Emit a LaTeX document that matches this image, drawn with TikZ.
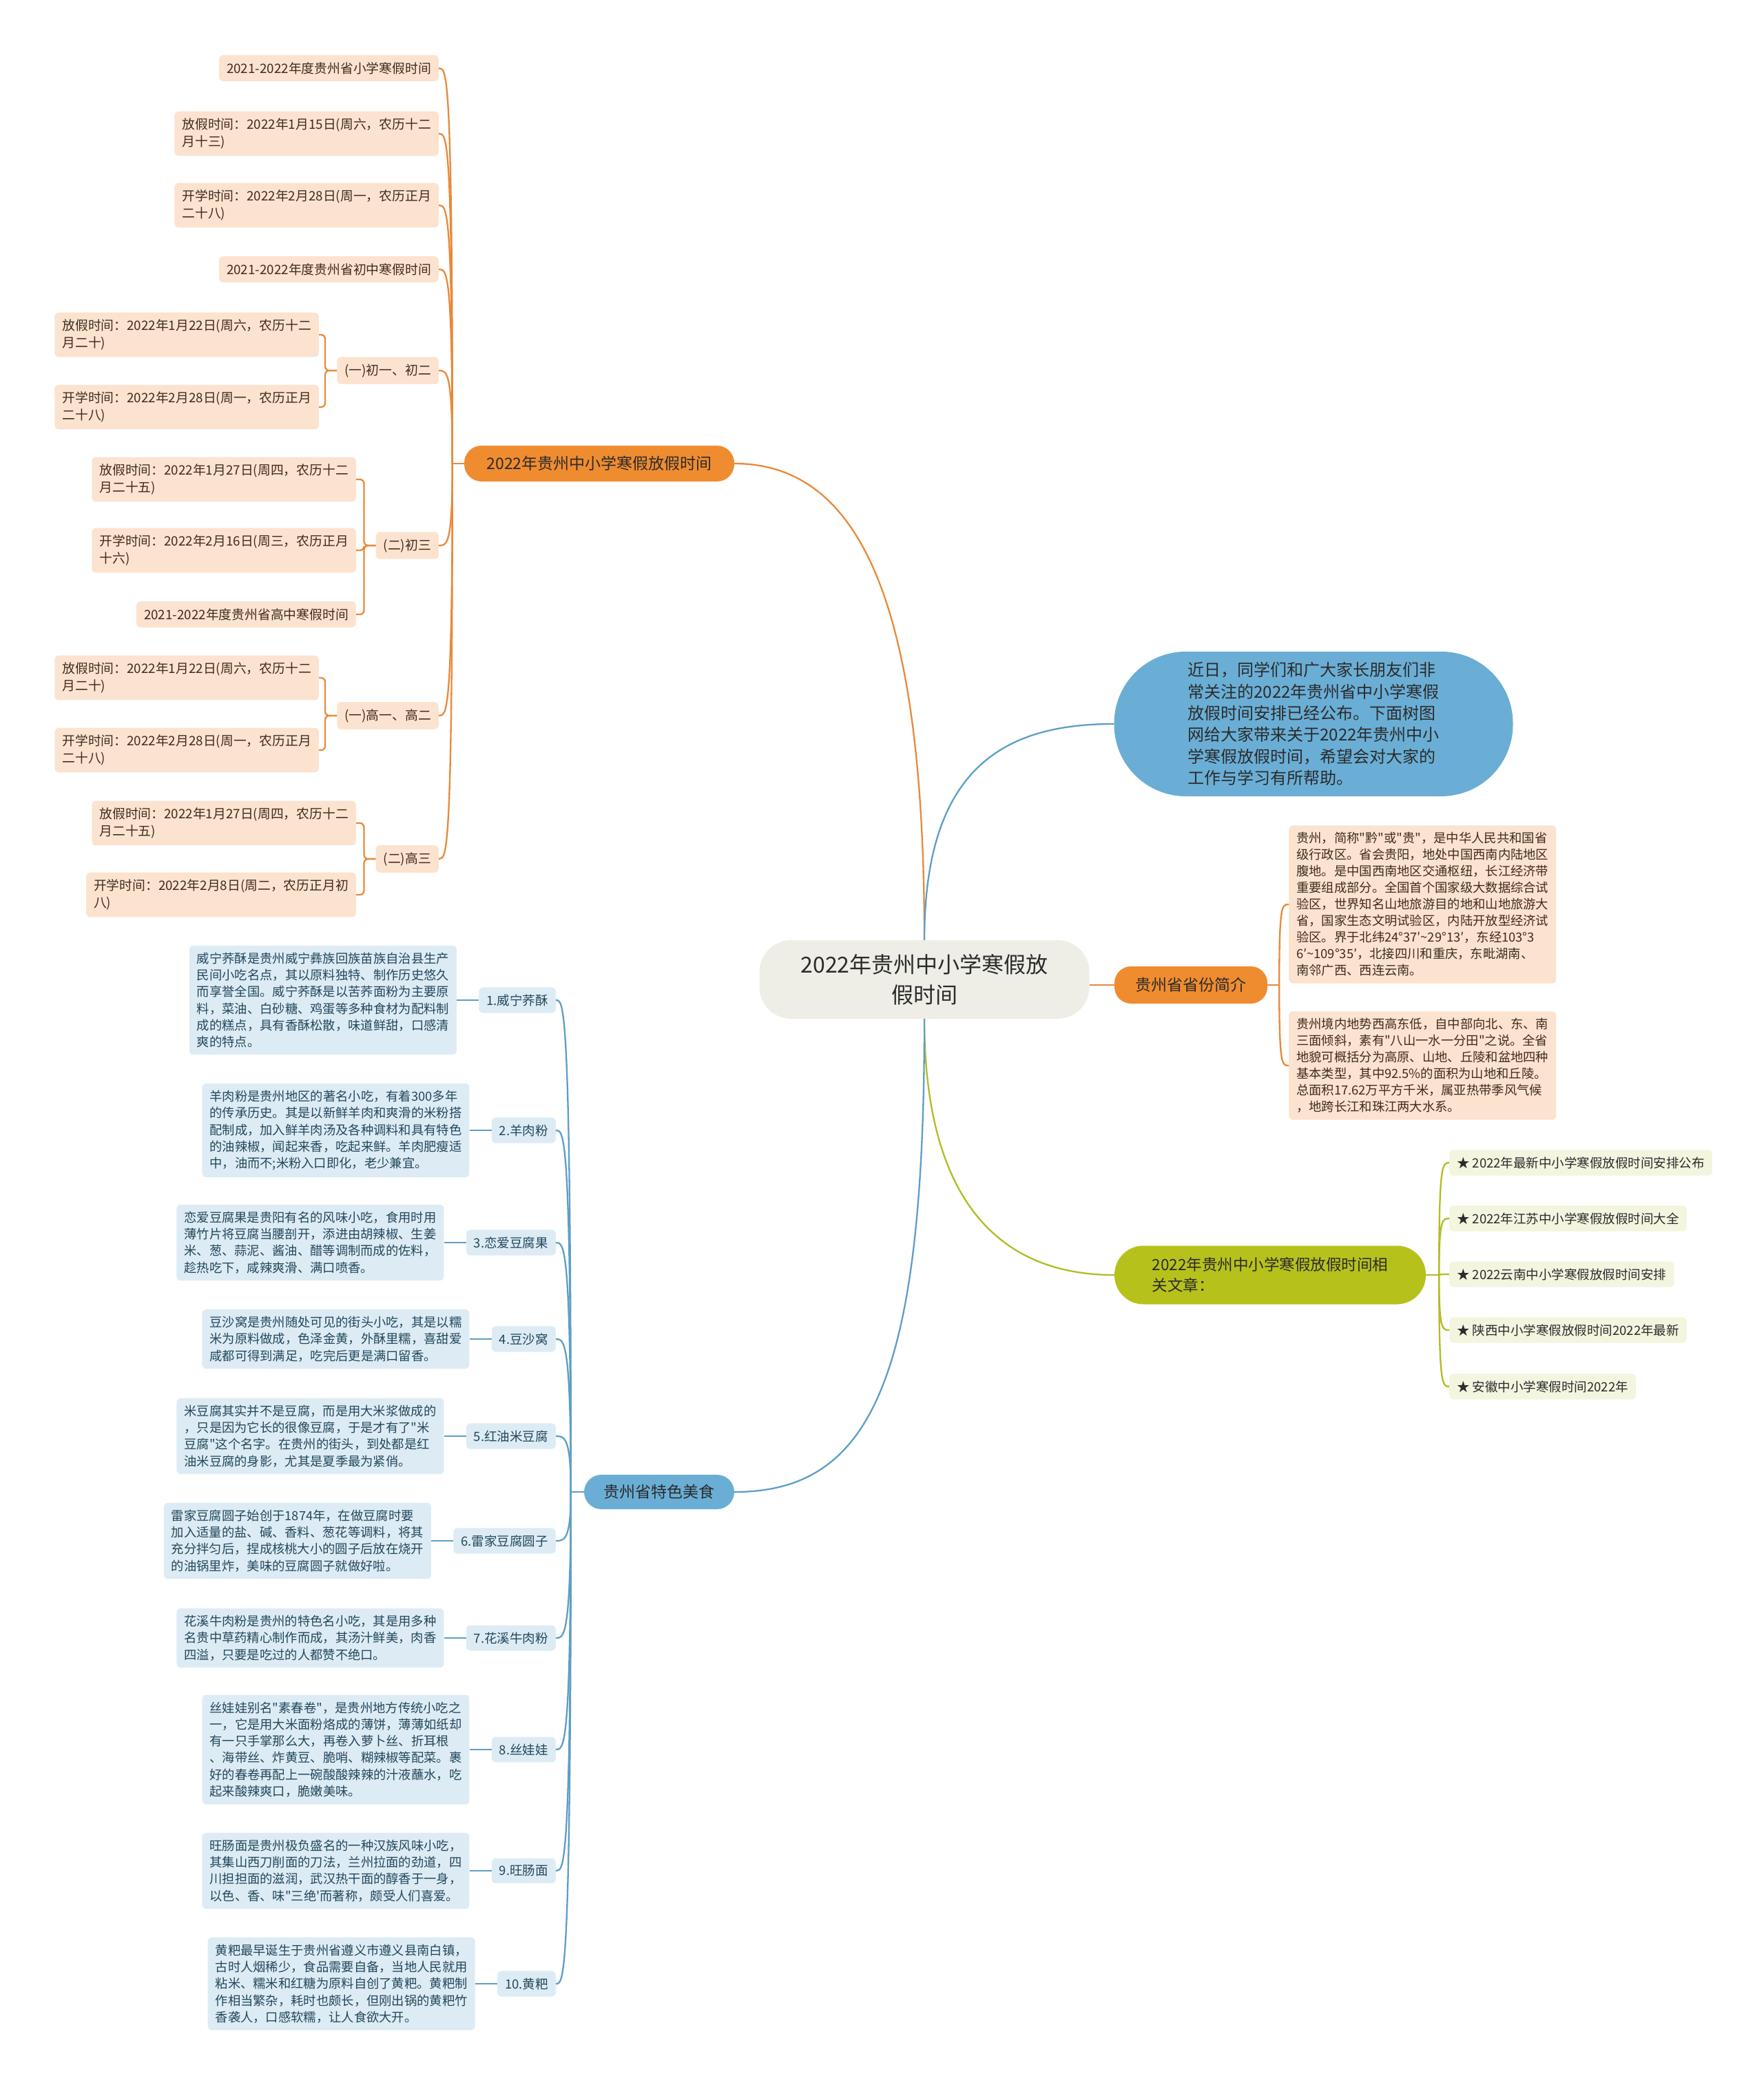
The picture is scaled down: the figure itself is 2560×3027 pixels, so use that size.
\documentclass[tikz,border=0pt]{standalone}
\usepackage{fontspec}
\setmainfont{Noto Sans CJK SC}[Ligatures=TeXOff]
\usetikzlibrary{positioning, calc}
\definecolor{OrgF} {HTML}{F08C30}
\definecolor{OrgL} {HTML}{E8893A}
\definecolor{OrgP} {HTML}{FCE3CF}
\definecolor{BluF} {HTML}{6AAED5}
\definecolor{BluL} {HTML}{5E9EC5}
\definecolor{BluP} {HTML}{DDECF4}
\definecolor{OlvF} {HTML}{B7C11C}
\definecolor{OlvL} {HTML}{B1BD22}
\definecolor{OlvP} {HTML}{F3F5DF}
\definecolor{RootF}{HTML}{EEEEE7}
\definecolor{Ink}  {HTML}{2B2B2B}
\definecolor{BrnT} {HTML}{3E2C1E}
\definecolor{SlaT} {HTML}{23475C}
\tikzset{
  root/.style={
    rectangle, rounded corners=46pt,
    fill=RootF, text=Ink,
    font=\fontsize{32}{44}\selectfont, align=center,
    minimum width=479pt, minimum height=114pt, inner sep=0pt,
  },
  tpc/.style args={#1}{
    rectangle, rounded corners=25pt,
    fill=#1, text=Ink,
    font=\fontsize{23}{31}\selectfont, align=left,
    inner sep=0pt, minimum height=52pt,
  },
  lf/.style args={#1/#2}{
    rectangle, rounded corners=6pt,
    fill=#1, text=#2,
    font=\fontsize{18.8}{25}\selectfont, align=left,
    inner xsep=11pt, inner ysep=10pt,
  },
  dsc/.style={
    lf=BluP/SlaT, font=\fontsize{18.3}{24.3}\selectfont,
  },
  con/.style args={#1}{
    draw=#1, line width=2.3pt,
  },
}
\begin{document}
\begin{tikzpicture}[x=1pt,y=-1pt]
  \fill[white] (0,0) rectangle (2560,3027);
  \useasboundingbox (0,0) rectangle (2560,3027);

  \node[root] (ctr) at (1342,1422) {2022年贵州中小学寒假放\\假时间};

  % main topics
  \node[tpc=OrgF, minimum width=392pt] (hol) at (870,673) {2022年贵州中小学寒假放假时间};
  \node[tpc=BluF, minimum width=579pt, minimum height=210pt, rounded corners=104pt,
        font=\fontsize{24}{31.3}\selectfont] (intro) at (1907,1051)
       {近日，同学们和广大家长朋友们非\\常关注的2022年贵州省中小学寒假\\放假时间安排已经公布。下面树图\\网给大家带来关于2022年贵州中小\\学寒假放假时间，希望会对大家的\\工作与学习有所帮助。};
  \node[tpc=OrgF, minimum width=222pt, minimum height=54pt, rounded corners=24pt] (prov) at (1729,1430) {贵州省省份简介};
  \node[tpc=OlvF, minimum width=452pt, minimum height=85pt, rounded corners=42pt,
        font=\fontsize{22.5}{30}\selectfont] (rel) at (1844,1851) {2022年贵州中小学寒假放假时间相\\关文章：};
  \node[tpc=BluF, minimum width=218pt, minimum height=50pt] (food) at (957,2166) {贵州省特色美食};

  \draw[con=OrgL] (ctr.north) .. controls +(0,-470) and +(190,0) .. (hol.east);
  \draw[con=BluL] (ctr.north) .. controls +(0,-250) and +(-160,0) .. (intro.west);
  \draw[con=OrgL] (ctr.east |- prov.west) -- (prov.west);
  \draw[con=OlvL] (ctr.south) .. controls +(0,260) and +(-170,0) .. (rel.west);
  \draw[con=BluL] (ctr.south) .. controls +(0,520) and +(200,0) .. (food.east);

  % holiday dates
  \foreach \n/\y/\txt in {
      h1/99/{2021-2022年度贵州省小学寒假时间},
      h2/194/{放假时间：2022年1月15日(周六，农历十二\\月十三)},
      h3/298/{开学时间：2022年2月28日(周一，农历正月\\二十八)},
      h4/391/{2021-2022年度贵州省初中寒假时间},
      s1/538/{(一)初一、初二},
      s2/792/{(二)初三},
      s3/1039/{(一)高一、高二},
      s4/1247/{(二)高三}}{
    \node[lf=OrgP/BrnT, anchor=east] (\n) at (637,\y) {\txt};
  }
  \foreach \n/\x/\y/\txt in {
      s1a/463/486/{放假时间：2022年1月22日(周六，农历十二\\月二十)},
      s1b/463/591/{开学时间：2022年2月28日(周一，农历正月\\二十八)},
      s2a/517/696/{放假时间：2022年1月27日(周四，农历十二\\月二十五)},
      s2b/517/799/{开学时间：2022年2月16日(周三，农历正月\\十六)},
      s2c/517/892/{2021-2022年度贵州省高中寒假时间},
      s3a/463/984/{放假时间：2022年1月22日(周六，农历十二\\月二十)},
      s3b/463/1089/{开学时间：2022年2月28日(周一，农历正月\\二十八)},
      s4a/517/1195/{放假时间：2022年1月27日(周四，农历十二\\月二十五)},
      s4b/517/1299/{开学时间：2022年2月8日(周二，农历正月初\\八)}}{
    \node[lf=OrgP/BrnT, anchor=east] (\n) at (\x,\y) {\txt};
  }
  \coordinate (hj) at ($(hol.west)+(-17,0)$);
  \draw[con=OrgL] (hol.west) -- (hj);
  \foreach \ch in {h1,h2,h3,h4,s1,s2,s3,s4}
    \draw[con=OrgL] (hj) .. controls (hj |- \ch.east) and +(12,0) .. (\ch.east);
  \foreach \s/\ch in {s1/s1a,s1/s1b,s2/s2a,s2/s2b,s2/s2c,s3/s3a,s3/s3b,s4/s4a,s4/s4b}
    \draw[con=OrgL, rounded corners=6pt] (\s.west) -- ++(-17,0) |- (\ch.east);

  % province
  \node[lf=OrgP/BrnT, font=\fontsize{18.3}{24}\selectfont, anchor=west] (p1) at (1871,1313)
       {贵州，简称"黔"或"贵"，是中华人民共和国省\\级行政区。省会贵阳，地处中国西南内陆地区\\腹地。是中国西南地区交通枢纽，长江经济带\\重要组成部分。全国首个国家级大数据综合试\\验区，世界知名山地旅游目的地和山地旅游大\\省，国家生态文明试验区，内陆开放型经济试\\验区。界于北纬24°37′\textasciitilde 29°13′，东经103°3\\6′\textasciitilde 109°35′，北接四川和重庆，东毗湖南、\\南邻广西、西连云南。};
  \node[lf=OrgP/BrnT, font=\fontsize{18.3}{24}\selectfont, anchor=west] (p2) at (1871,1547)
       {贵州境内地势西高东低，自中部向北、东、南\\三面倾斜，素有"八山一水一分田"之说。全省\\地貌可概括分为高原、山地、丘陵和盆地四种\\基本类型，其中92.5\%的面积为山地和丘陵。\\总面积17.62万平方千米，属亚热带季风气候\\，地跨长江和珠江两大水系。};
  \coordinate (pj) at ($(prov.east)+(17,0)$);
  \draw[con=OrgL] (prov.east) -- (pj);
  \foreach \ch in {p1,p2}
    \draw[con=OrgL] (pj) .. controls (pj |- \ch.west) and +(-10,0) .. (\ch.west);

  % related articles
  \foreach \n/\y/\txt in {
      r1/1688/{★ 2022年最新中小学寒假放假时间安排公布},
      r2/1769/{★ 2022年江苏中小学寒假放假时间大全},
      r3/1850/{★ 2022云南中小学寒假放假时间安排},
      r4/1931/{★ 陕西中小学寒假放假时间2022年最新},
      r5/2013/{★ 安徽中小学寒假时间2022年}}{
    \node[lf=OlvP/Ink, font=\fontsize{18.5}{24}\selectfont, anchor=west] (\n) at (2104,\y) {\txt};
  }
  \coordinate (rj) at ($(rel.east)+(19,0)$);
  \draw[con=OlvL] (rel.east) -- (rj);
  \foreach \ch in {r1,r2,r3,r4,r5}
    \draw[con=OlvL] (rj) .. controls (rj |- \ch.west) and +(-10,0) .. (\ch.west);

  % food
  \foreach \n/\y/\txt in {
      f1/1452/{1.威宁荞酥}, f2/1641/{2.羊肉粉}, f3/1804/{3.恋爱豆腐果},
      f4/1944/{4.豆沙窝}, f5/2085/{5.红油米豆腐}, f6/2237/{6.雷家豆腐圆子},
      f7/2378/{7.花溪牛肉粉}, f8/2540/{8.丝娃娃}, f9/2716/{9.旺肠面},
      f10/2880/{10.黄粑}}{
    \node[lf=BluP/SlaT, font=\fontsize{18.5}{24}\selectfont, anchor=east] (\n) at (807,\y) {\txt};
  }
  \coordinate (fj) at ($(food.west)+(-19,0)$);
  \draw[con=BluL] (food.west) -- (fj);
  \foreach \ch in {f1,f2,f3,f4,f5,f6,f7,f8,f9,f10}
    \draw[con=BluL] (fj) .. controls (fj |- \ch.east) and +(12,0) .. (\ch.east);

  \foreach \d/\f/\txt in {
      d1/f1/{威宁荞酥是贵州威宁彝族回族苗族自治县生产\\民间小吃名点，其以原料独特、制作历史悠久\\而享誉全国。威宁荞酥是以苦荞面粉为主要原\\料，菜油、白砂糖、鸡蛋等多种食材为配料制\\成的糕点，具有香酥松散，味道鲜甜，口感清\\爽的特点。},
      d2/f2/{羊肉粉是贵州地区的著名小吃，有着300多年\\的传承历史。其是以新鲜羊肉和爽滑的米粉搭\\配制成，加入鲜羊肉汤及各种调料和具有特色\\的油辣椒，闻起来香，吃起来鲜。羊肉肥瘦适\\中，油而不;米粉入口即化，老少兼宜。},
      d3/f3/{恋爱豆腐果是贵阳有名的风味小吃，食用时用\\薄竹片将豆腐当腰剖开，添进由胡辣椒、生姜\\米、葱、蒜泥、酱油、醋等调制而成的佐料，\\趁热吃下，咸辣爽滑、满口喷香。},
      d4/f4/{豆沙窝是贵州随处可见的街头小吃，其是以糯\\米为原料做成，色泽金黄，外酥里糯，喜甜爱\\咸都可得到满足，吃完后更是满口留香。},
      d5/f5/{米豆腐其实并不是豆腐，而是用大米浆做成的\\，只是因为它长的很像豆腐，于是才有了"米\\豆腐"这个名字。在贵州的街头，到处都是红\\油米豆腐的身影，尤其是夏季最为紧俏。},
      d6/f6/{雷家豆腐圆子始创于1874年，在做豆腐时要\\加入适量的盐、碱、香料、葱花等调料，将其\\充分拌匀后，捏成核桃大小的圆子后放在烧开\\的油锅里炸，美味的豆腐圆子就做好啦。},
      d7/f7/{花溪牛肉粉是贵州的特色名小吃，其是用多种\\名贵中草药精心制作而成，其汤汁鲜美，肉香\\四溢，只要是吃过的人都赞不绝口。},
      d8/f8/{丝娃娃别名"素春卷"，是贵州地方传统小吃之\\一，它是用大米面粉烙成的薄饼，薄薄如纸却\\有一只手掌那么大，再卷入萝卜丝、折耳根\\、海带丝、炸黄豆、脆哨、糊辣椒等配菜。裹\\好的春卷再配上一碗酸酸辣辣的汁液蘸水，吃\\起来酸辣爽口，脆嫩美味。},
      d9/f9/{旺肠面是贵州极负盛名的一种汉族风味小吃，\\其集山西刀削面的刀法，兰州拉面的劲道，四\\川担担面的滋润，武汉热干面的醇香于一身，\\以色、香、味"三绝'而著称，颇受人们喜爱。},
      d10/f10/{黄粑最早诞生于贵州省遵义市遵义县南白镇，\\古时人烟稀少，食品需要自备，当地人民就用\\粘米、糯米和红糖为原料自创了黄粑。黄粑制\\作相当繁杂，耗时也颇长，但刚出锅的黄粑竹\\香袭人，口感软糯，让人食欲大开。}}{
    \node[dsc, left=32pt of \f] (\d) {\txt};
    \draw[con=BluL] (\d.east) -- (\f.west);
  }
\end{tikzpicture}
\end{document}
